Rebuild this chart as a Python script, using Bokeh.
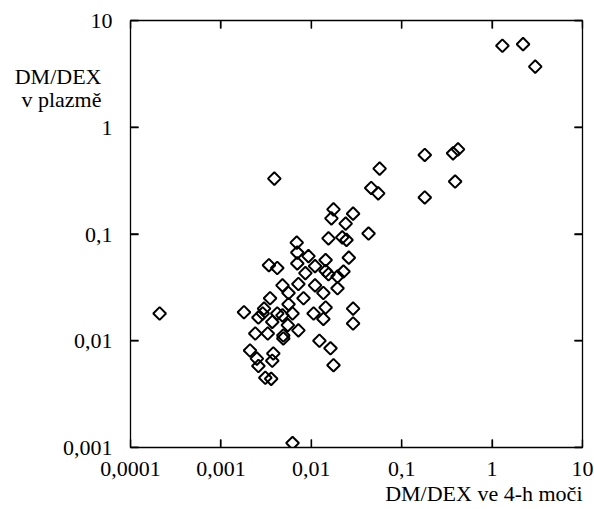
import numpy as np
from bokeh.plotting import figure
from bokeh.models import LogAxis, FixedTicker, ColumnDataSource, Range1d
from bokeh.embed import file_html
from bokeh.resources import INLINE

# DM/DEX ratio in 4-h urine (x) and in plasma (y)
urine = [1.3, 2.2, 3.0, 0.37, 0.42, 0.39, 0.18, 0.18, 0.057, 0.046, 0.055,
         0.0176, 0.029, 0.0167, 0.024, 0.043, 0.0155, 0.022, 0.0245, 0.026,
         0.0093, 0.0144, 0.0069, 0.0070, 0.0034, 0.0042, 0.0070, 0.011, 0.0086,
         0.0155, 0.0195, 0.0227, 0.0144, 0.0048, 0.0072, 0.011, 0.0195, 0.0056,
         0.0136, 0.0035, 0.0082, 0.0056, 0.0018, 0.0030, 0.0042, 0.0062, 0.0106,
         0.0144, 0.0136, 0.0026, 0.0029, 0.0048, 0.0037, 0.0055, 0.0072, 0.0024,
         0.0033, 0.0049, 0.0049, 0.0123, 0.0163, 0.0021, 0.0038, 0.0025, 0.0037,
         0.0176, 0.0031, 0.0036, 0.0026, 0.0062, 0.00021, 0.0039, 0.029, 0.029]
plasma = [5.8, 6.0, 3.7, 0.57, 0.62, 0.31, 0.55, 0.22, 0.41, 0.27, 0.24,
          0.17, 0.155, 0.14, 0.125, 0.101, 0.091, 0.093, 0.088, 0.060,
          0.062, 0.057, 0.083, 0.067, 0.051, 0.048, 0.053, 0.050, 0.043,
          0.042, 0.040, 0.0445, 0.045, 0.033, 0.034, 0.033, 0.031, 0.028,
          0.028, 0.025, 0.025, 0.022, 0.0185, 0.020, 0.018, 0.018, 0.018,
          0.0205, 0.016, 0.0165, 0.018, 0.0173, 0.015, 0.014, 0.0125, 0.0117,
          0.0117, 0.0112, 0.0105, 0.010, 0.0085, 0.0081, 0.0076, 0.0068, 0.0065,
          0.0059, 0.0045, 0.0044, 0.0058, 0.0011, 0.018, 0.33, 0.020, 0.0145]

x_ticks = [0.0001, 0.001, 0.01, 0.1, 1, 10]
x_tick_labels = ["0,0001", "0,001", "0,01", "0,1", "1", "10"]
y_ticks = [0.001, 0.01, 0.1, 1, 10]
y_tick_labels = ["0,001", "0,01", "0,1", "1", "10"]

x_title = "DM/DEX ve 4-h moči"
y_title_lines = ["DM/DEX", "v plazmě"]

# layout positions (in axis coordinates) where the titles are written
Y_TITLE_POS = [2.99, 1.82]
X_TITLE_POS = 0.81
PAD = "\u00a0\u00a0"

# inward tick length, in decades of each log axis (about 8 px)
TICK_DEC_X = 0.0885
TICK_DEC_Y = 0.075

FONT = "Liberation Serif"
FS = "22px"
LW = 1.3
TICK_IN = 8

xr = Range1d(x_ticks[0], x_ticks[-1])
yr = Range1d(y_ticks[0], y_ticks[-1])

p = figure(width=594, height=509, x_axis_type="log", y_axis_type="log",
           x_range=xr, y_range=yr,
           output_backend="svg", toolbar_location=None,
           min_border_left=130, min_border_right=12,
           min_border_top=20, min_border_bottom=62)

p.grid.visible = False
p.outline_line_color = "black"
p.outline_line_width = LW
p.outline_line_alpha = 1.0
p.background_fill_color = None
p.border_fill_color = "white"


def style_axis(ax, ticks, overrides, standoff, tick_in, font_size=FS):
    ax.ticker = FixedTicker(ticks=ticks, minor_ticks=[])
    ax.major_label_overrides = overrides
    ax.major_tick_in = tick_in
    ax.major_tick_out = 0
    ax.minor_tick_in = 0
    ax.minor_tick_out = 0
    ax.major_tick_line_color = "black" if tick_in else None
    ax.major_tick_line_width = LW
    ax.axis_line_color = None
    ax.major_label_text_font = FONT
    ax.major_label_text_font_size = font_size
    ax.major_label_text_color = "black"
    ax.major_label_standoff = standoff


def blank(ticks):
    return {t: "" for t in ticks}


# bottom axis: inward ticks and tick labels
style_axis(p.xaxis[0], x_ticks, dict(zip(x_ticks, x_tick_labels)), 14, TICK_IN)

# second bottom axis carrying the x title, right-aligned under the frame
xt = LogAxis()
style_axis(xt, [X_TITLE_POS], {X_TITLE_POS: x_title}, 2, 0)
p.add_layout(xt, "below")

# left: innermost axis draws only the inward ticks
style_axis(p.yaxis[0], y_ticks, blank(y_ticks), 0, TICK_IN, "1px")

# left: outer axis carries tick labels plus the horizontal two-line title
left_over = dict(zip(y_ticks, y_tick_labels))
for pos, line in zip(Y_TITLE_POS, y_title_lines):
    left_over[pos] = line + PAD
yl = LogAxis()
style_axis(yl, y_ticks + Y_TITLE_POS, left_over, 18, 0)
p.add_layout(yl, "left")

# mirrored inward ticks on top and right
top = LogAxis()
style_axis(top, x_ticks, blank(x_ticks), 0, TICK_IN, "1px")
p.add_layout(top, "above")
right = LogAxis()
style_axis(right, y_ticks, blank(y_ticks), 0, TICK_IN, "1px")
p.add_layout(right, "right")

# the same inward tick marks drawn as short segments inside the frame
fx = 10 ** TICK_DEC_X
fy = 10 ** TICK_DEC_Y
n_x = len(x_ticks)
n_y = len(y_ticks)
ticks_h = ColumnDataSource(dict(
    x0=x_ticks + x_ticks,
    x1=x_ticks + x_ticks,
    y0=[yr.start] * n_x + [yr.end] * n_x,
    y1=[yr.start * fy] * n_x + [yr.end / fy] * n_x))
ticks_v = ColumnDataSource(dict(
    x0=[xr.start] * n_y + [xr.end] * n_y,
    x1=[xr.start * fx] * n_y + [xr.end / fx] * n_y,
    y0=y_ticks + y_ticks,
    y1=y_ticks + y_ticks))
p.segment(x0="x0", y0="y0", x1="x1", y1="y1", source=ticks_h,
          line_color="black", line_width=LW)
p.segment(x0="x0", y0="y0", x1="x1", y1="y1", source=ticks_v,
          line_color="black", line_width=LW)

src = ColumnDataSource(dict(x=urine, y=plasma))
p.scatter("x", "y", source=src, marker="square", angle=np.pi / 4, size=9,
          fill_alpha=0, line_color="black", line_width=2)

open("out.html", "w").write(file_html(p, INLINE))
